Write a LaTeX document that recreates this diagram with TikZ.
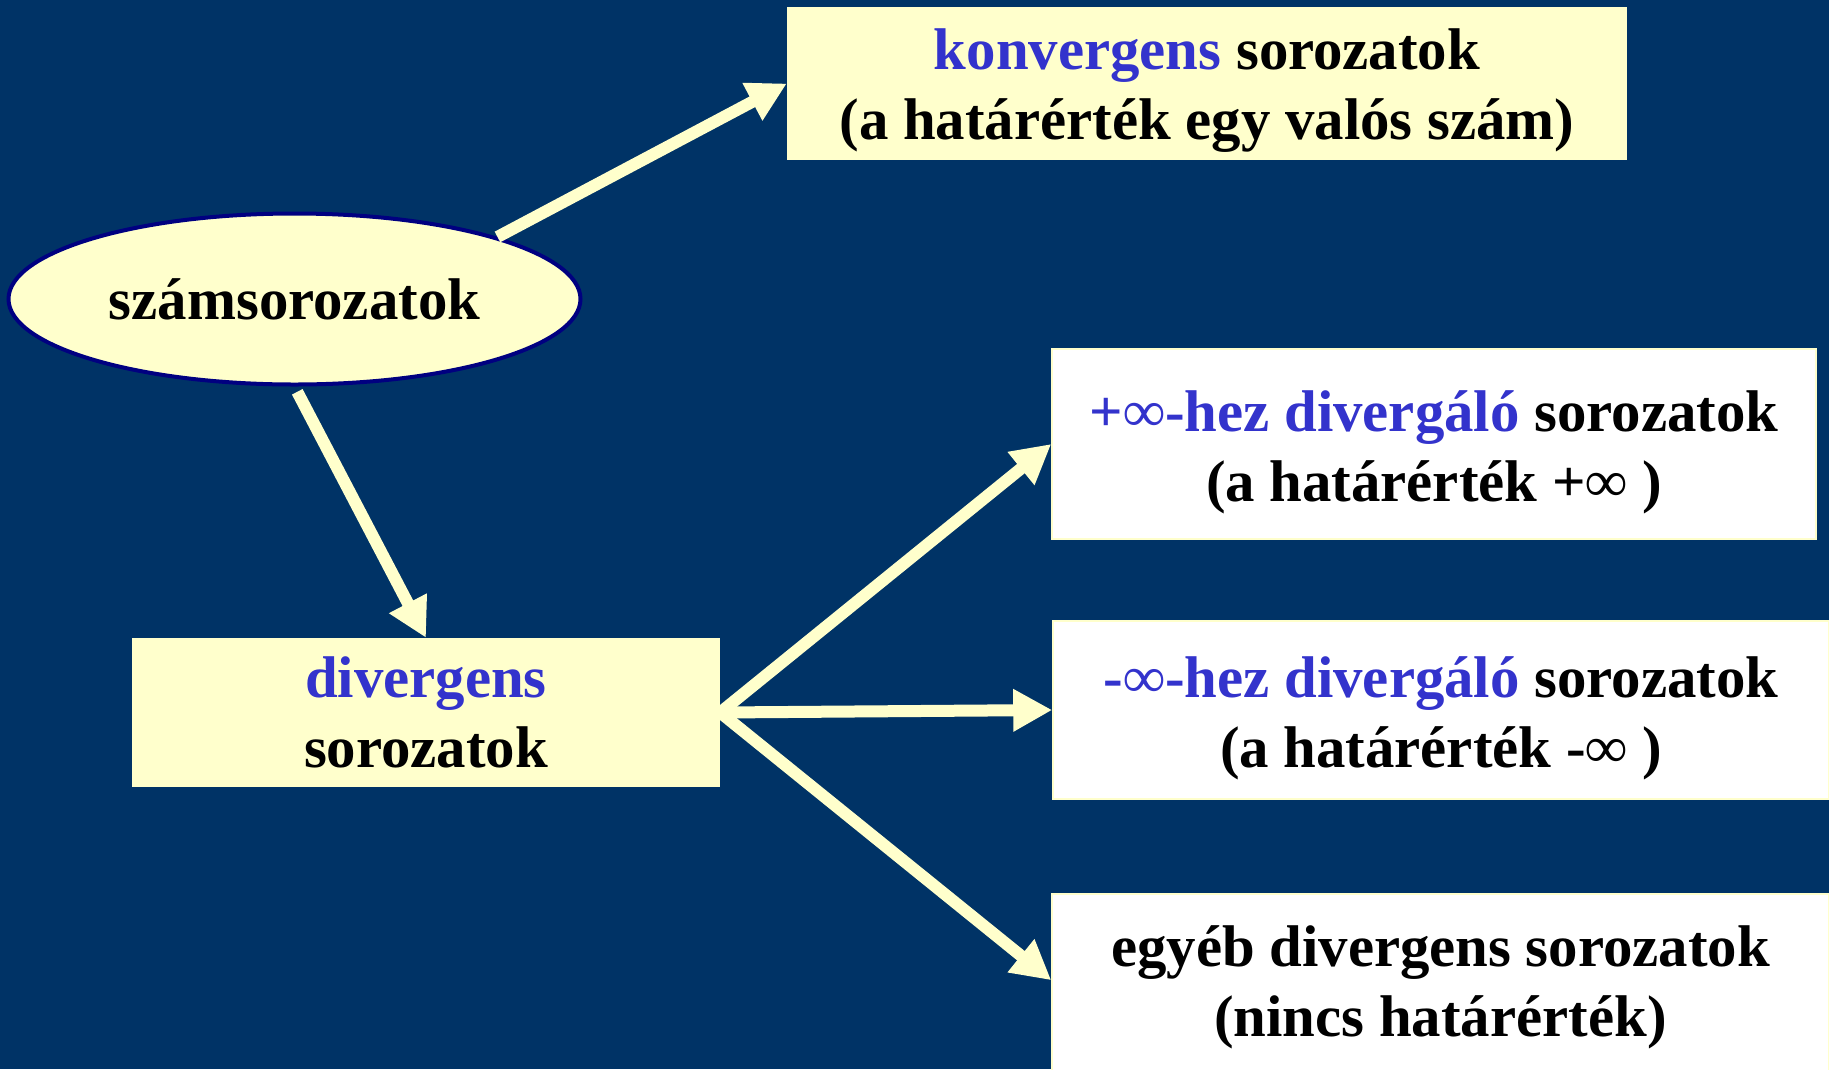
\documentclass[tikz,border=0pt]{standalone}
\usepackage{fontspec}
\setmainfont{Liberation Serif}
\usetikzlibrary{arrows.meta,shapes.geometric}
\definecolor{bg}{HTML}{003366}
\definecolor{pale}{HTML}{FFFFCC}
\definecolor{navyb}{HTML}{000080}
\definecolor{hl}{HTML}{3333CC}
\begin{document}
\begin{tikzpicture}[x=1pt,y=-1pt,
  every node/.style={font=\fontsize{58.8}{70}\selectfont\bfseries, align=center, inner sep=0pt},
  ybox/.style={rectangle, fill=pale, draw=none},
  wbox/.style={rectangle, fill=white, draw=pale, line width=1.5pt},
  ellbox/.style={ellipse, fill=pale, draw=navyb, line width=4pt},
  conn/.style={draw=pale, line width=12pt, -{Triangle[length=39pt,width=40pt]}},
]
\fill[bg] (0,0) rectangle (1829,1069);
\useasboundingbox (0,0) rectangle (1829,1069);
\clip (0,0) rectangle (1829,1069);

\node[ybox, minimum width=840pt, minimum height=153pt] (konv) at (1207,83.5)
  {\rule{0pt}{55pt}\textcolor{hl}{konvergens} sorozatok\\(a határérték egy valós szám)};
\node[ellbox, minimum width=572pt, minimum height=171pt] (ell) at (294.5,299) {számsorozatok};
\node[ybox, minimum width=588pt, minimum height=149pt] (div) at (426,712.5)
  {\textcolor{hl}{divergens}\\sorozatok};
\node[wbox, minimum width=764pt, minimum height=190pt] (pinf) at (1434,444)
  {\rule{0pt}{58pt}\textcolor{hl}{+∞-hez divergáló} sorozatok\\(a határérték +∞ )};
\node[wbox, minimum width=776pt, minimum height=178pt] (minf) at (1441,710)
  {\rule{0pt}{58pt}\textcolor{hl}{-∞-hez divergáló} sorozatok\\(a határérték -∞ )};
\node[wbox, minimum width=777pt, minimum height=186pt] (egy) at (1440.5,987)
  {egyéb divergens sorozatok\\(nincs határérték)};

\draw[conn] (ell.17) -- (konv.west);
\draw[conn, shorten <=6pt] (ell.south) -- (div.north);
\draw[conn] (div.east) -- (pinf.west);
\draw[conn] (div.east) -- (minf.west);
\draw[conn] (div.east) -- (egy.179);
\end{tikzpicture}
\end{document}
